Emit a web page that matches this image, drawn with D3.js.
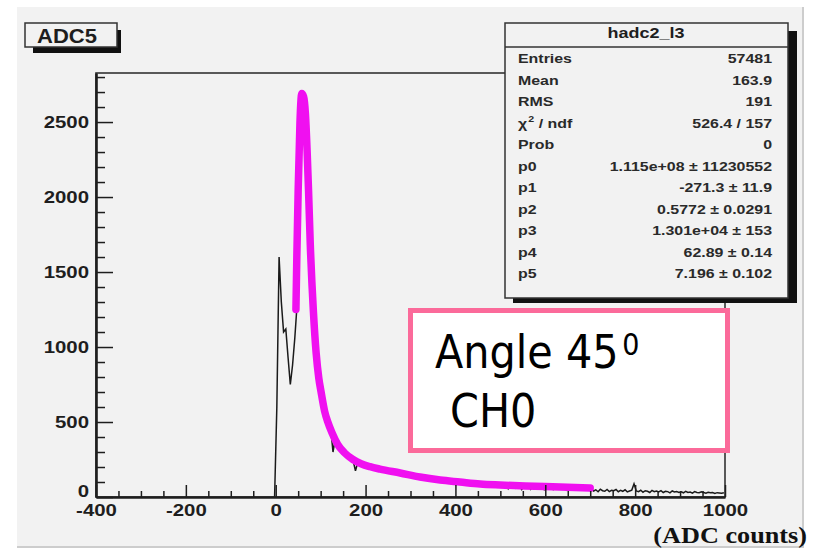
<!DOCTYPE html>
<html>
<head>
<meta charset="utf-8">
<script src="https://cdn.jsdelivr.net/npm/d3@7"></script>
<style>
  html, body { margin: 0; padding: 0; background: #ffffff; }
  svg { display: block; }
</style>
</head>
<body>
<svg id="chart" width="825" height="551"></svg>
<script>
// ---- ADC5 spectrum: histogram hadc2_l3 with its fitted curve ----

// Histogram: 5-count-wide bins starting at -5 (bin contents)
const histLow = -5;
const binWidth = 5;
const histCounts = [
  0,
  600, 1600, 1300, 1100, 1120, 930, 750, 880, 1060, 1280,      // 0-50
  2350, 2680, 2650, 2470, 2080, 1650, 1310, 1090, 900, 760,    // 50-100
  690, 590, 545, 480, 455, 300, 390, 350, 340, 305,            // 100-150
  295, 275, 265, 250, 240, 175, 228, 218, 214, 204,            // 150-200
  200, 206, 192, 198, 184, 194, 180, 187, 172, 182,            // 200-250
  168, 172, 160, 168, 158, 145, 160, 155, 150, 148,            // 250-300
  145, 140, 142, 135, 138, 128, 132, 125, 126, 120,            // 300-350
  118, 115, 116, 110, 112, 106, 110, 104, 106, 102,            // 350-400
  100, 102, 96, 98, 92, 95, 90, 92, 88, 86,                    // 400-450
  88, 84, 86, 80, 84, 78, 82, 76, 80, 78,                      // 450-500
  82, 70, 88, 55, 80, 74, 60, 85, 72, 50,                      // 500-550
  78, 68, 80, 52, 76, 70, 58, 74, 66, 48,                      // 550-600
  75, 62, 72, 50, 70, 66, 55, 72, 60, 46,                      // 600-650
  68, 60, 70, 48, 64, 58, 52, 66, 55, 45,                      // 650-700
  55, 40, 48, 35, 52, 42, 38, 50, 36, 45,                      // 700-750
  42, 50, 35, 44, 38, 48, 34, 40, 46, 88,                      // 750-800
  40, 36, 45, 32, 42, 38, 30, 44, 35, 40,                      // 800-850
  34, 42, 30, 38, 36, 28, 40, 33, 36, 30,                      // 850-900
  35, 28, 38, 30, 33, 26, 36, 30, 28, 34,                      // 900-950
  30, 26, 32, 28, 30, 24, 29, 27, 25, 28                       // 950-1000
];

// Fitted function, sampled (ADC counts, entries)
const fitX = [45, 47, 50, 54, 58, 62, 66, 70, 73, 77, 84, 90, 96, 101, 109, 116, 125, 138, 153, 172, 190, 210, 232, 277, 321, 366, 410, 455, 499, 555, 633, 700];
const fitY = [1250, 1600, 2050, 2500, 2690, 2670, 2560, 2300, 2050, 1680, 1230, 960, 790, 700, 570, 500, 430, 350, 295, 250, 222, 202, 186, 160, 133, 113, 100, 87, 80, 73, 67, 60];

// Axis ticks
const xTicks = [-400, -200, 0, 200, 400, 600, 800, 1000];
const xTickLabels = ["-400", "-200", "0", "200", "400", "600", "800", "1000"];
const yTicks = [0, 500, 1000, 1500, 2000, 2500];
const yTickLabels = ["0", "500", "1000", "1500", "2000", "2500"];

// Statistics box
const statsTitle = "hadc2_l3";
const statsNames = ["Entries", "Mean", "RMS", "χ2 / ndf", "Prob", "p0", "p1", "p2", "p3", "p4", "p5"];
const statsValues = ["57481", "163.9", "191", "526.4 / 157", "0",
  "1.115e+08 ± 11230552", "-271.3 ± 11.9", "0.5772 ± 0.0291",
  "1.301e+04 ± 153", "62.89 ± 0.14", "7.196 ± 0.102"];

const histTitle = "ADC5";
const xAxisTitle = "(ADC counts)";
const noteLines = ["Angle 45", "CH0"];
const noteSup = "0";

// ---- layout ----
const plot = { l: 96, r: 725, t: 73, b: 497 };
const ink = "#1e1e1e";
const canvasFill = "#f2f2f2";
const sans = "'Liberation Sans', Arial, Helvetica, sans-serif";

const svg = d3.select("#chart");

// canvas background with a bevelled edge
svg.append("rect").attr("x", 17).attr("y", 7).attr("width", 786).attr("height", 540)
  .attr("fill", canvasFill);
svg.append("path").attr("d", "M803,7V547H17")
  .attr("fill", "none").attr("stroke", "#cdcdcd").attr("stroke-width", 2);

const x = d3.scaleLinear().domain([-400, 1000]).range([plot.l, plot.r]);
const y = d3.scaleLinear().domain([0, 2827]).range([plot.b, plot.t]);

// plot frame
svg.append("rect").attr("x", plot.l).attr("y", plot.t)
  .attr("width", plot.r - plot.l).attr("height", plot.b - plot.t)
  .attr("fill", canvasFill).attr("stroke", "#333").attr("stroke-width", 1.6);

svg.append("clipPath").attr("id", "plotClip").append("rect")
  .attr("x", plot.l).attr("y", plot.t - 10)
  .attr("width", plot.r - plot.l).attr("height", plot.b - plot.t + 10);

// histogram polyline through bin centres
const histLine = d3.line()
  .x((d, i) => x(histLow + (i + 0.5) * binWidth))
  .y(d => y(d));
svg.append("path").datum(histCounts)
  .attr("clip-path", "url(#plotClip)")
  .attr("d", histLine)
  .attr("fill", "none").attr("stroke", "#1a1a1a").attr("stroke-width", 1.5)
  .attr("stroke-linejoin", "miter");

// fitted function
const fitPts = fitX.map((v, i) => [v, fitY[i]]);
svg.append("path").datum(fitPts)
  .attr("d", d3.line().x(d => x(d[0])).y(d => y(d[1])).curve(d3.curveMonotoneX))
  .attr("fill", "none").attr("stroke", "#f010f0").attr("stroke-width", 7.5)
  .attr("stroke-linecap", "round").attr("stroke-linejoin", "round");

// ---- axes ----
function styleTicks(g) {
  g.selectAll(".tick line").attr("stroke", ink).attr("stroke-width", 1.5);
  g.selectAll(".tick text")
    .attr("fill", ink)
    .attr("font-family", sans)
    .attr("font-weight", "bold")
    .attr("font-size", 17);
}

// y axis: minor ticks
const yMinor = d3.range(100, 2827, 100).filter(v => v % 500 !== 0);
svg.append("g").attr("transform", `translate(${plot.l},0)`)
  .call(d3.axisLeft(y).tickValues(yMinor).tickFormat("").tickSizeInner(-9).tickSizeOuter(0))
  .call(g => g.select(".domain").remove())
  .call(g => g.selectAll(".tick line").attr("stroke", ink).attr("stroke-width", 1.5));

// y axis: major ticks and labels
const gy = svg.append("g").attr("transform", `translate(${plot.l},0)`)
  .call(d3.axisLeft(y).tickValues(yTicks).tickFormat((d, i) => yTickLabels[i])
    .tickSizeInner(-17).tickSizeOuter(0).tickPadding(7));
gy.select(".domain").attr("stroke", ink).attr("stroke-width", 2.6);
styleTicks(gy);
gy.selectAll(".tick text").attr("transform", "scale(1.2,1)").attr("x", -7 / 1.2);
// the zero label sits just above the corner, clear of the x labels
gy.selectAll(".tick text").filter(d => d === 0).attr("dy", "-0.05em");

// x axis: minor ticks
const xMinor = d3.range(-400, 1001, 50).filter(v => v % 200 !== 0);
svg.append("g").attr("transform", `translate(0,${plot.b})`)
  .call(d3.axisBottom(x).tickValues(xMinor).tickFormat("").tickSizeInner(-6).tickSizeOuter(0))
  .call(g => g.select(".domain").remove())
  .call(g => g.selectAll(".tick line").attr("stroke", ink).attr("stroke-width", 1.5));

// x axis: major ticks and labels
const gx = svg.append("g").attr("transform", `translate(0,${plot.b})`)
  .call(d3.axisBottom(x).tickValues(xTicks).tickFormat((d, i) => xTickLabels[i])
    .tickSizeInner(-12).tickSizeOuter(0).tickPadding(7));
gx.select(".domain").attr("stroke", ink).attr("stroke-width", 2.6);
styleTicks(gx);
gx.selectAll(".tick text").attr("transform", "scale(1.2,1)");

// ---- title box ----
svg.append("rect").attr("x", 33).attr("y", 30).attr("width", 88).attr("height", 23).attr("fill", "#111");
svg.append("rect").attr("x", 25).attr("y", 23).attr("width", 92).attr("height", 24)
  .attr("fill", canvasFill).attr("stroke", "#333").attr("stroke-width", 1.5);
svg.append("g").attr("transform", "translate(67,42.5) scale(1.1,1)")
  .append("text").attr("text-anchor", "middle")
  .attr("font-family", sans).attr("font-weight", "bold").attr("font-size", 20)
  .attr("fill", ink).text(histTitle);

// ---- statistics box ----
const sb = { x: 505, y: 23, w: 283, h: 275 };
svg.append("rect").attr("x", sb.x + 8).attr("y", sb.y + 8).attr("width", sb.w + 1).attr("height", sb.h - 3)
  .attr("fill", "#111");
svg.append("rect").attr("x", sb.x).attr("y", sb.y).attr("width", sb.w).attr("height", sb.h)
  .attr("fill", canvasFill).attr("stroke", "#333").attr("stroke-width", 1.5);
svg.append("line").attr("x1", sb.x).attr("x2", sb.x + sb.w).attr("y1", 47).attr("y2", 47)
  .attr("stroke", "#333").attr("stroke-width", 1.5);
svg.append("g").attr("transform", "translate(646,38) scale(1.2,1)")
  .append("text").attr("text-anchor", "middle")
  .attr("font-family", sans).attr("font-weight", "bold").attr("font-size", 15)
  .attr("fill", ink).text(statsTitle);

const rowY = d3.scaleLinear().domain([0, statsNames.length - 1]).range([63, 278]);
statsNames.forEach((name, i) => {
  const gl = svg.append("g").attr("transform", `translate(518,${rowY(i)}) scale(1.18,1)`);
  const t = gl.append("text").attr("font-family", sans).attr("font-weight", "bold")
    .attr("font-size", 13.5).attr("fill", "#2a2a2a");
  if (name.startsWith("χ2")) {
    t.append("tspan").text("χ");
    t.append("tspan").attr("font-size", 9).attr("dy", -6).attr("dx", 1).text("2");
    t.append("tspan").attr("dy", 6).text(name.slice(2));
  } else {
    t.text(name);
  }
  svg.append("g").attr("transform", `translate(772,${rowY(i)}) scale(1.18,1)`)
    .append("text").attr("text-anchor", "end")
    .attr("font-family", sans).attr("font-weight", "bold")
    .attr("font-size", 13.5).attr("fill", "#2a2a2a").text(statsValues[i]);
});

// ---- annotation box ----
svg.append("rect").attr("x", 410.5).attr("y", 310.5).attr("width", 317).attr("height", 140)
  .attr("fill", "#ffffff").attr("stroke", "#fb6a9a").attr("stroke-width", 5);
const note1 = svg.append("g").attr("transform", "translate(435,368) scale(0.9,1)")
  .append("text").attr("font-family", "'DejaVu Sans', sans-serif").attr("font-size", 46)
  .attr("fill", "#000");
note1.append("tspan").text(noteLines[0]);
note1.append("tspan").attr("font-size", 30).attr("dx", 4).attr("dy", -13).text(noteSup);
svg.append("g").attr("transform", "translate(450,427) scale(0.9,1)")
  .append("text").attr("font-family", "'DejaVu Sans', sans-serif").attr("font-size", 46)
  .attr("fill", "#000").text(noteLines[1]);

// ---- x axis title ----
svg.append("g").attr("transform", "translate(807,543) scale(1.14,1)")
  .append("text").attr("text-anchor", "end")
  .attr("font-family", "'Liberation Serif', 'Times New Roman', serif")
  .attr("font-weight", "bold").attr("font-size", 23).attr("fill", "#111")
  .text(xAxisTitle);
</script>
</body>
</html>
